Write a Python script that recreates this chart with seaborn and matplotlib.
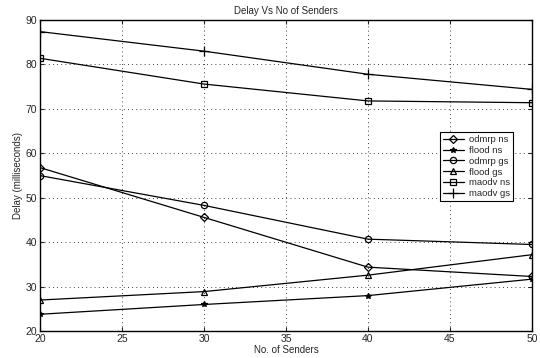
import matplotlib
matplotlib.use("Agg")
import matplotlib.pyplot as plt
import seaborn as sns
import pandas as pd

senders = [20, 30, 40, 50]
odmrp_ns = [56.8, 45.6, 34.4, 32.3]
flood_ns = [23.8, 26.0, 28.0, 31.7]
odmrp_gs = [55.0, 48.3, 40.7, 39.5]
flood_gs = [27.0, 28.9, 32.6, 37.2]
maodv_ns = [81.4, 75.6, 71.8, 71.4]
maodv_gs = [87.4, 83.0, 77.8, 74.4]

series_names = ["odmrp ns", "flood ns", "odmrp gs", "flood gs", "maodv ns", "maodv gs"]
series_vals = [odmrp_ns, flood_ns, odmrp_gs, flood_gs, maodv_ns, maodv_gs]
markers = ["D", "*", "o", "^", "s", "+"]
msizes = [3.6, 4, 4.5, 4.5, 4.5, 7]

sns.set_theme(style="ticks")
plt.rcParams["font.family"] = ["Liberation Sans", "DejaVu Sans"]

fig = plt.figure(figsize=(5.4, 3.58), dpi=100)
ax = fig.add_axes([0.074, 0.075, 0.911, 0.869])

for name, vals, m, ms in zip(series_names, series_vals, markers, msizes):
    df = pd.DataFrame({"x": senders, "y": vals})
    filled = m == "*"
    sns.lineplot(data=df, x="x", y="y", ax=ax, color="black", linewidth=0.9,
                 marker=m, markersize=ms,
                 markerfacecolor="black" if filled else "none",
                 markeredgecolor="black", markeredgewidth=0.9, label=name)

ax.set_xlim(20, 50)
ax.set_ylim(20, 90)
ax.set_xticks(range(20, 51, 5))
ax.set_yticks(range(20, 91, 10))
ax.grid(True, linestyle=(0, (1, 4)), color="black", linewidth=0.6)
ax.tick_params(direction="in", top=True, right=True, labelsize=7.5, length=3, width=0.8, pad=2)
for s in ax.spines.values():
    s.set_visible(True)
    s.set_linewidth(1.0)
    s.set_color("black")

ax.set_title("Delay Vs No of Senders", fontsize=7, pad=4)
ax.set_xlabel("No. of Senders", fontsize=7, labelpad=1)
ax.set_ylabel("Delay (milliseconds)", fontsize=7, labelpad=2)

leg = ax.legend(loc="upper right", bbox_to_anchor=(0.972, 0.655), fontsize=6.8,
                frameon=True, fancybox=False, edgecolor="black", framealpha=1,
                handlelength=2.2, borderpad=0.3, labelspacing=0.2, handletextpad=0.6)
leg.get_frame().set_linewidth(0.8)

fig.savefig("out.png", dpi=100)
